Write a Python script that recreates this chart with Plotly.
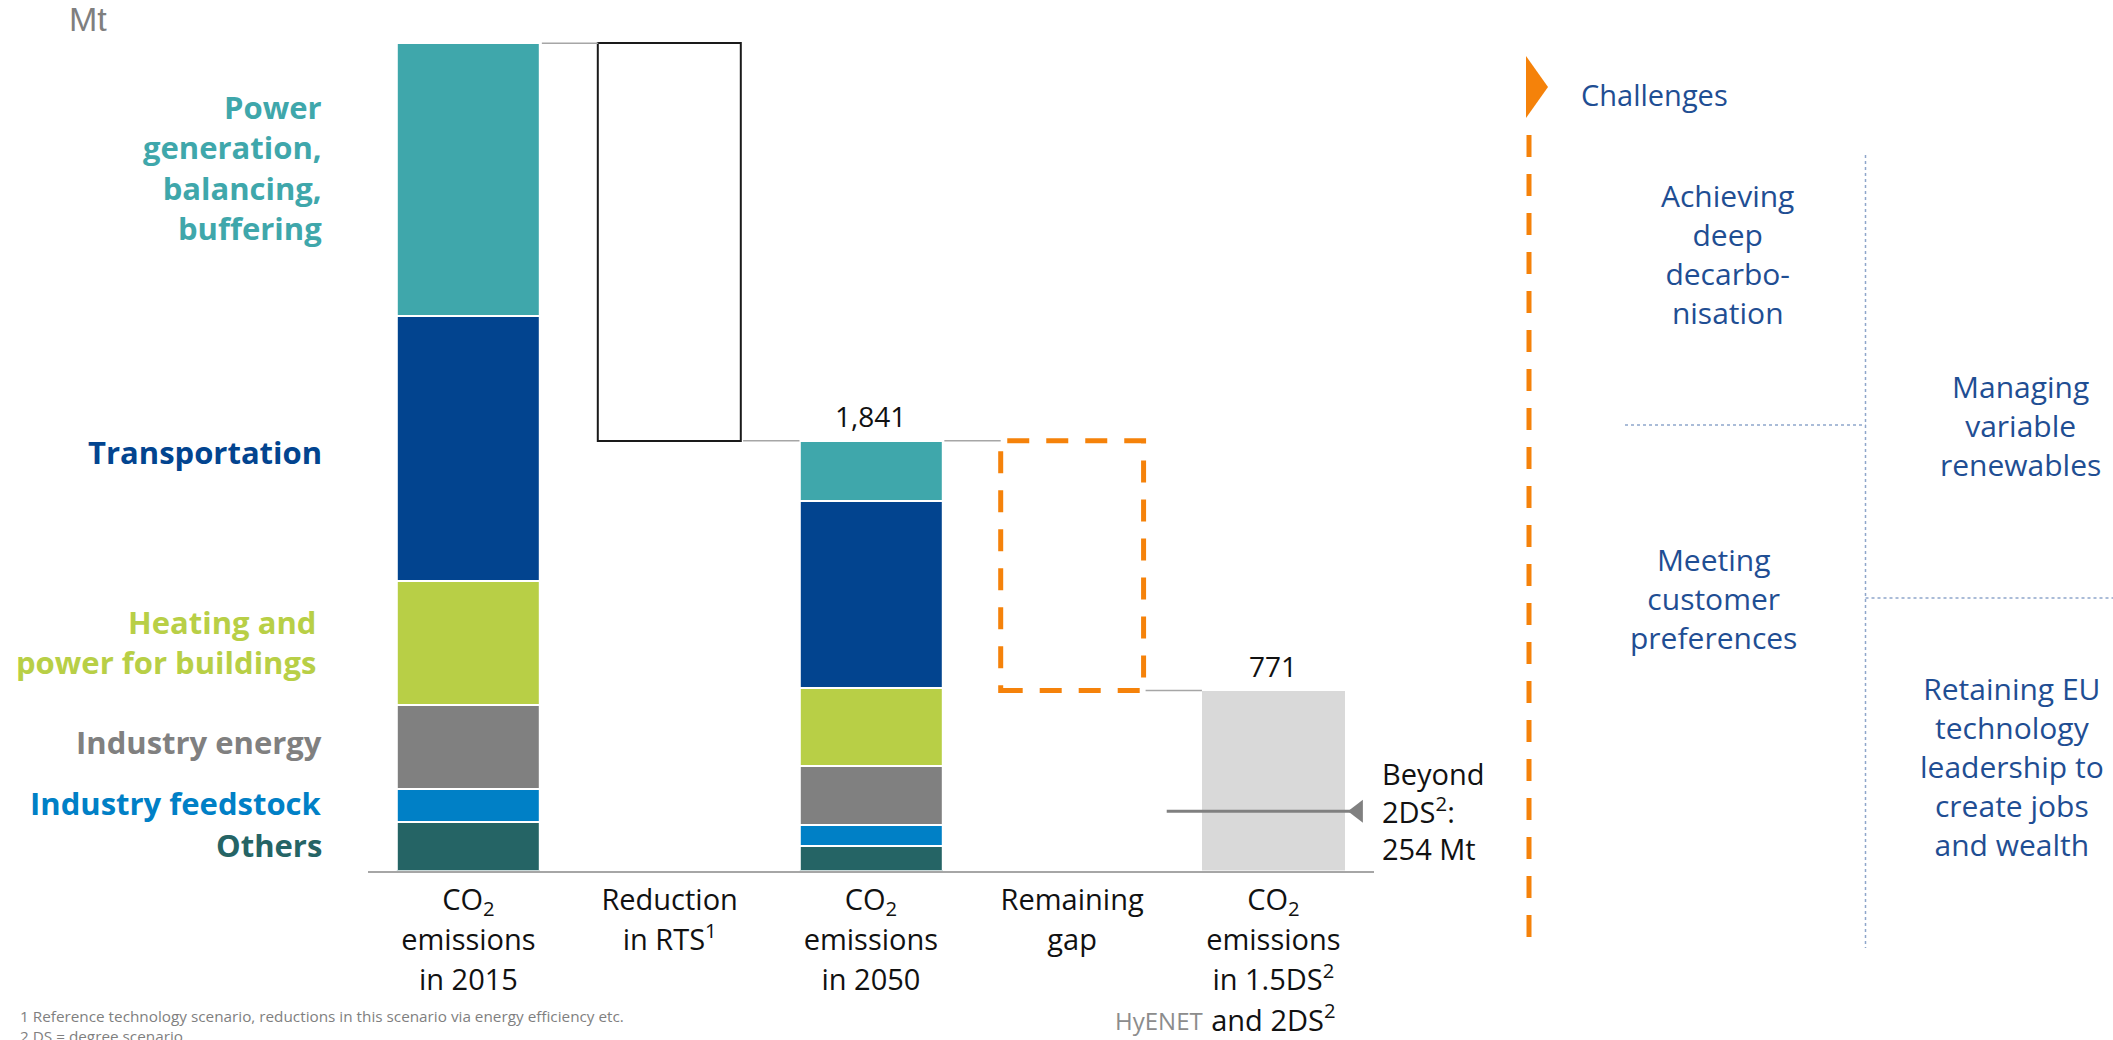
import plotly.graph_objects as go

# ---------------- data ----------------
categories = [
    "CO<sub>2</sub><br>emissions<br>in 2015",
    "Reduction<br>in RTS<sup>1</sup>",
    "CO<sub>2</sub><br>emissions<br>in 2050",
    "Remaining<br>gap",
    "CO<sub>2</sub><br>emissions<br>in 1.5DS<sup>2</sup><br>and 2DS<sup>2</sup>",
]
sectors = [
    "Power<br>generation,<br>balancing,<br>buffering",
    "Transportation",
    "Heating and<br>power for buildings",
    "Industry energy",
    "Industry feedstock",
    "Others",
]
emissions_2015 = [1166, 1139, 529, 362, 139, 208]   # Mt, top to bottom
emissions_2050 = [260, 800, 333, 251, 92, 105]      # Mt, top to bottom
target_15_2ds = 771                                 # Mt
beyond_2ds = 254                                    # Mt

challenges = [
    "Achieving<br>deep<br>decarbo-<br>nisation",
    "Managing<br>variable<br>renewables",
    "Meeting<br>customer<br>preferences",
    "Retaining EU<br>technology<br>leadership to<br>create jobs<br>and wealth",
]
footnotes = [
    "1 Reference technology scenario, reductions in this scenario via energy efficiency etc.",
    "2 DS = degree scenario",
]

# ---------------- styles ----------------
sector_colors = ["#3FA7AB", "#02448F", "#B8CF46", "#808080", "#0080C6", "#256465"]
label_yshift = [12, -3, 1, 5, 3, 1]
ORANGE = "#F5820A"
BLUE_TXT = "#1F4E93"
FONT = "Open Sans"

W, H = 2113, 1040
def px(x):
    return x / W
def py(y):
    return 1 - y / H

BAR_W = 0.71
HALF = BAR_W / 2

total_2015 = sum(emissions_2015)
total_2050 = sum(emissions_2050)
reduction = total_2015 - total_2050

fig = go.Figure()

# stacked sector bars (2015 and 2050)
for i, name in enumerate(sectors):
    b15 = sum(emissions_2015[i + 1:])
    b50 = sum(emissions_2050[i + 1:])
    fig.add_trace(go.Bar(
        x=[0, 2], y=[emissions_2015[i], emissions_2050[i]], base=[b15, b50],
        width=BAR_W, name=name.replace("<br>", " "),
        marker=dict(color=sector_colors[i], line=dict(color="white", width=2)),
        hoverinfo="skip", showlegend=False,
    ))

# reduction bar (outlined)
fig.add_trace(go.Bar(
    x=[1], y=[reduction], base=[total_2050], width=BAR_W,
    marker=dict(color="white", line=dict(color="#1A1A1A", width=2)),
    hoverinfo="skip", showlegend=False,
))
# target bar
fig.add_trace(go.Bar(
    x=[4], y=[target_15_2ds], base=[0], width=BAR_W,
    marker=dict(color="#D9D9D9", line=dict(width=0)),
    hoverinfo="skip", showlegend=False,
))

# arrow marker for "beyond 2DS"
fig.add_trace(go.Scatter(
    x=[4 + 0.42], y=[beyond_2ds], mode="markers",
    marker=dict(symbol="triangle-left", size=20, color="#808080"),
    hoverinfo="skip", showlegend=False,
))

shapes = []
# connectors
conn = [(0, total_2015), (1, total_2050), (2, total_2050), (3, target_15_2ds)]
for i, v in conn:
    shapes.append(dict(type="line", xref="x", yref="y", x0=i + HALF + 0.01, x1=i + 1 - HALF,
                       y0=v, y1=v, line=dict(color="#A6A6A6", width=1.5)))
# remaining gap dashed box
shapes.append(dict(type="rect", xref="x", yref="y", x0=3 - HALF, x1=3 + HALF,
                   y0=target_15_2ds, y1=total_2050,
                   line=dict(color=ORANGE, width=5, dash="22px,17px")))
# beyond 2DS line
shapes.append(dict(type="line", xref="x", yref="y", x0=3.47, x1=4.42,
                   y0=beyond_2ds, y1=beyond_2ds, line=dict(color="#808080", width=3)))

# right panel: orange dashed vertical + triangle
shapes.append(dict(type="line", xref="paper", yref="paper", x0=px(1529), x1=px(1529),
                   y0=py(135), y1=py(946), line=dict(color=ORANGE, width=5, dash="22px,17px")))
shapes.append(dict(type="path", xref="paper", yref="paper",
                   path=f"M {px(1526)},{py(56)} L {px(1548)},{py(87)} L {px(1526)},{py(118)} Z",
                   fillcolor=ORANGE, line=dict(width=0)))
# dotted separators
DOT = dict(color="#8FA6CB", width=1.5, dash="3px,3px")
shapes.append(dict(type="line", xref="paper", yref="paper", x0=px(1865.5), x1=px(1865.5),
                   y0=py(155), y1=py(948), line=DOT))
shapes.append(dict(type="line", xref="paper", yref="paper", x0=px(1625), x1=px(1865.5),
                   y0=py(425), y1=py(425), line=DOT))
shapes.append(dict(type="line", xref="paper", yref="paper", x0=px(1865.5), x1=px(2113),
                   y0=py(598), y1=py(598), line=DOT))

annotations = []
# left sector labels aligned to 2015 segments
for i, name in enumerate(sectors):
    center = sum(emissions_2015[i + 1:]) + emissions_2015[i] / 2
    annotations.append(dict(
        xref="paper", yref="y", x=px(324 if i != 2 else 318), y=center,
        xanchor="right", yanchor="middle", align="right", showarrow=False,
        yshift=label_yshift[i],
        text=f"<b>{name}</b>",
        font=dict(family=FONT, size=31, color=sector_colors[i]),
    ))
# totals
for xv, v in [(2, total_2050), (4, target_15_2ds)]:
    annotations.append(dict(
        xref="x", yref="y", x=xv, y=v, yshift=25, showarrow=False,
        text=f"{v:,}", xanchor="center", yanchor="middle",
        font=dict(family=FONT, size=28, color="#111111"),
    ))
# beyond 2DS text
annotations.append(dict(
    xref="paper", yref="y", x=px(1380), y=beyond_2ds, xanchor="left", yanchor="middle",
    align="left", showarrow=False, text=f"Beyond<br>2DS<sup>2</sup>:<br>{beyond_2ds} Mt",
    font=dict(family=FONT, size=29, color="#111111"),
))
# unit label
annotations.append(dict(
    xref="paper", yref="paper", x=px(88), y=py(19), xanchor="center", yanchor="middle",
    showarrow=False, text="Mt", font=dict(family="Liberation Sans, Arial", size=34, color="#7F7F7F"),
))
# challenges header
annotations.append(dict(
    xref="paper", yref="paper", x=px(1579), y=py(94), xanchor="left", yanchor="middle",
    showarrow=False, text="Challenges", font=dict(family=FONT, size=29, color=BLUE_TXT),
))
challenge_pos = [(1727, 254), (2020, 425), (1713, 598), (2012, 766)]
for t, (cx, cy) in zip(challenges, challenge_pos):
    annotations.append(dict(
        xref="paper", yref="paper", x=px(cx), y=py(cy), xanchor="center", yanchor="middle",
        align="center", showarrow=False, text=t,
        font=dict(family=FONT, size=30, color=BLUE_TXT),
    ))
# footnotes
for t, fy in zip(footnotes, [1016, 1036]):
    annotations.append(dict(
        xref="paper", yref="paper", x=px(18), y=py(fy), xanchor="left", yanchor="middle",
        showarrow=False, text=t, font=dict(family=FONT, size=15.3, color="#7F7F7F"),
    ))
# watermark
annotations.append(dict(
    xref="paper", yref="paper", x=px(1159), y=py(1020), xanchor="center", yanchor="middle",
    showarrow=False, text="HyENET", font=dict(family=FONT, size=24, color="#8C8C8C"),
))

ticktext = [f'<span style="font-size:29px">{c}</span>' for c in categories]

fig.update_layout(
    width=W, height=H,
    margin=dict(l=0, r=0, t=0, b=0),
    paper_bgcolor="white", plot_bgcolor="white",
    barmode="overlay", bargap=0,
    showlegend=False,
    shapes=shapes, annotations=annotations,
    xaxis=dict(
        domain=[px(367.8), px(1374)], range=[-0.5, 4.5],
        tickmode="array", tickvals=list(range(len(categories))), ticktext=ticktext,
        tickfont=dict(family=FONT, size=31, color="#111111"),
        showline=True, linecolor="#A6A6A6", linewidth=2,
        ticks="", showgrid=False, zeroline=False, fixedrange=True,
    ),
    yaxis=dict(
        domain=[py(870.5), py(20)], range=[0, (870.5 - 20) * 1841 / 429.8],
        visible=False, fixedrange=True,
    ),
)

fig.write_html("out.html")
